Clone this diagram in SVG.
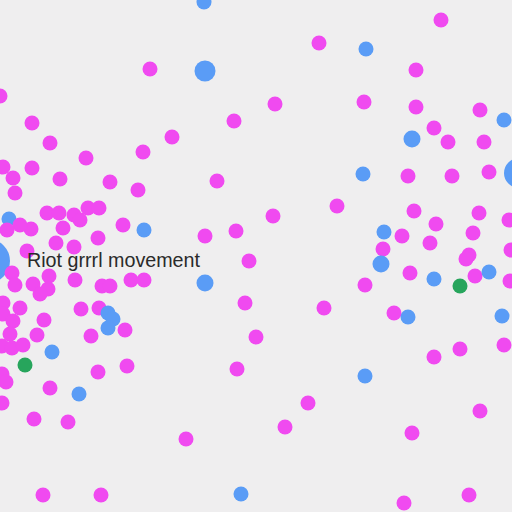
<svg xmlns="http://www.w3.org/2000/svg" width="512" height="512" viewBox="0 0 512 512">
<style>
.m{fill:#f04af0}
.b{fill:#5a9cf6}
.g{fill:#27a55c}
.lbl{font-family:"Liberation Sans",Arial,sans-serif;font-size:19.5px;fill:#2a2a2a}
</style>
<rect width="512" height="512" fill="#efeeef"/>
<g id="connectors"/>
<g id="nodes-back">
<g id="b1"><circle class="b" cx="-12" cy="261" r="22"/></g>
<g id="b2"><circle class="b" cx="519" cy="173" r="15"/></g>
<g id="b3"><circle class="b" cx="9" cy="219" r="7.5"/></g>
</g>
<g id="nodes-m">
<g id="m1"><circle class="m" cx="441" cy="20" r="7.5"/></g>
<g id="m2"><circle class="m" cx="319" cy="43" r="7.5"/></g>
<g id="m3"><circle class="m" cx="150" cy="69" r="7.5"/></g>
<g id="m4"><circle class="m" cx="416" cy="70" r="7.5"/></g>
<g id="m5"><circle class="m" cx="0" cy="96" r="7.5"/></g>
<g id="m6"><circle class="m" cx="275" cy="104" r="7.5"/></g>
<g id="m7"><circle class="m" cx="364" cy="102" r="7.5"/></g>
<g id="m8"><circle class="m" cx="416" cy="107" r="7.5"/></g>
<g id="m9"><circle class="m" cx="480" cy="110" r="7.5"/></g>
<g id="m10"><circle class="m" cx="32" cy="123" r="7.5"/></g>
<g id="m11"><circle class="m" cx="234" cy="121" r="7.5"/></g>
<g id="m12"><circle class="m" cx="172" cy="137" r="7.5"/></g>
<g id="m13"><circle class="m" cx="434" cy="128" r="7.5"/></g>
<g id="m14"><circle class="m" cx="50" cy="143" r="7.5"/></g>
<g id="m15"><circle class="m" cx="448" cy="142" r="7.5"/></g>
<g id="m16"><circle class="m" cx="484" cy="142" r="7.5"/></g>
<g id="m17"><circle class="m" cx="143" cy="152" r="7.5"/></g>
<g id="m18"><circle class="m" cx="86" cy="158" r="7.5"/></g>
<g id="m19"><circle class="m" cx="3" cy="167" r="7.5"/></g>
<g id="m20"><circle class="m" cx="32" cy="168" r="7.5"/></g>
<g id="m21"><circle class="m" cx="13" cy="178" r="7.5"/></g>
<g id="m22"><circle class="m" cx="60" cy="179" r="7.5"/></g>
<g id="m23"><circle class="m" cx="110" cy="182" r="7.5"/></g>
<g id="m24"><circle class="m" cx="217" cy="181" r="7.5"/></g>
<g id="m25"><circle class="m" cx="138" cy="190" r="7.5"/></g>
<g id="m26"><circle class="m" cx="15" cy="193" r="7.5"/></g>
<g id="m27"><circle class="m" cx="408" cy="176" r="7.5"/></g>
<g id="m28"><circle class="m" cx="452" cy="176" r="7.5"/></g>
<g id="m29"><circle class="m" cx="489" cy="172" r="7.5"/></g>
<g id="m30"><circle class="m" cx="337" cy="206" r="7.5"/></g>
<g id="m31"><circle class="m" cx="273" cy="216" r="7.5"/></g>
<g id="m32"><circle class="m" cx="414" cy="211" r="7.5"/></g>
<g id="m33"><circle class="m" cx="479" cy="213" r="7.5"/></g>
<g id="m34"><circle class="m" cx="509" cy="220" r="7.5"/></g>
<g id="m35"><circle class="m" cx="436" cy="224" r="7.5"/></g>
<g id="m36"><circle class="m" cx="473" cy="233" r="7.5"/></g>
<g id="m37"><circle class="m" cx="402" cy="236" r="7.5"/></g>
<g id="m38"><circle class="m" cx="430" cy="243" r="7.5"/></g>
<g id="m39"><circle class="m" cx="383" cy="249" r="7.5"/></g>
<g id="m40"><circle class="m" cx="469" cy="255" r="7.5"/></g>
<g id="m41"><circle class="m" cx="466" cy="259" r="7.5"/></g>
<g id="m42"><circle class="m" cx="511" cy="250" r="7.5"/></g>
<g id="m43"><circle class="m" cx="47" cy="213" r="7.5"/></g>
<g id="m44"><circle class="m" cx="59" cy="213" r="7.5"/></g>
<g id="m45"><circle class="m" cx="74" cy="215" r="7.5"/></g>
<g id="m46"><circle class="m" cx="80" cy="220" r="7.5"/></g>
<g id="m47"><circle class="m" cx="88" cy="208" r="7.5"/></g>
<g id="m48"><circle class="m" cx="99" cy="208" r="7.5"/></g>
<g id="m49"><circle class="m" cx="63" cy="228" r="7.5"/></g>
<g id="m50"><circle class="m" cx="31" cy="229" r="7.5"/></g>
<g id="m51"><circle class="m" cx="20" cy="225" r="7.5"/></g>
<g id="m52"><circle class="m" cx="7" cy="230" r="7.5"/></g>
<g id="m53"><circle class="m" cx="123" cy="225" r="7.5"/></g>
<g id="m54"><circle class="m" cx="205" cy="236" r="7.5"/></g>
<g id="m55"><circle class="m" cx="236" cy="231" r="7.5"/></g>
<g id="m56"><circle class="m" cx="56" cy="243" r="7.5"/></g>
<g id="m57"><circle class="m" cx="74" cy="247" r="7.5"/></g>
<g id="m58"><circle class="m" cx="98" cy="238" r="7.5"/></g>
<g id="m59"><circle class="m" cx="27" cy="251" r="7.5"/></g>
<g id="m60"><circle class="m" cx="249" cy="261" r="7.5"/></g>
<g id="m61"><circle class="m" cx="12" cy="273" r="7.5"/></g>
<g id="m62"><circle class="m" cx="15" cy="285" r="7.5"/></g>
<g id="m63"><circle class="m" cx="33" cy="284" r="7.5"/></g>
<g id="m64"><circle class="m" cx="49" cy="276" r="7.5"/></g>
<g id="m65"><circle class="m" cx="48" cy="289" r="7.5"/></g>
<g id="m66"><circle class="m" cx="40" cy="294" r="7.5"/></g>
<g id="m67"><circle class="m" cx="75" cy="280" r="7.5"/></g>
<g id="m68"><circle class="m" cx="102" cy="286" r="7.5"/></g>
<g id="m69"><circle class="m" cx="110" cy="286" r="7.5"/></g>
<g id="m70"><circle class="m" cx="131" cy="280" r="7.5"/></g>
<g id="m71"><circle class="m" cx="144" cy="280" r="7.5"/></g>
<g id="m72"><circle class="m" cx="245" cy="303" r="7.5"/></g>
<g id="m73"><circle class="m" cx="256" cy="337" r="7.5"/></g>
<g id="m74"><circle class="m" cx="3" cy="303" r="7.5"/></g>
<g id="m75"><circle class="m" cx="20" cy="308" r="7.5"/></g>
<g id="m76"><circle class="m" cx="3" cy="314" r="7.5"/></g>
<g id="m77"><circle class="m" cx="13" cy="321" r="7.5"/></g>
<g id="m78"><circle class="m" cx="44" cy="320" r="7.5"/></g>
<g id="m79"><circle class="m" cx="81" cy="309" r="7.5"/></g>
<g id="m80"><circle class="m" cx="99" cy="308" r="7.5"/></g>
<g id="m81"><circle class="m" cx="125" cy="330" r="7.5"/></g>
<g id="m82"><circle class="m" cx="91" cy="336" r="7.5"/></g>
<g id="m83"><circle class="m" cx="37" cy="335" r="7.5"/></g>
<g id="m84"><circle class="m" cx="10" cy="334" r="7.5"/></g>
<g id="m85"><circle class="m" cx="2" cy="346" r="7.5"/></g>
<g id="m86"><circle class="m" cx="12" cy="348" r="7.5"/></g>
<g id="m87"><circle class="m" cx="23" cy="345" r="7.5"/></g>
<g id="m88"><circle class="m" cx="98" cy="372" r="7.5"/></g>
<g id="m89"><circle class="m" cx="127" cy="366" r="7.5"/></g>
<g id="m90"><circle class="m" cx="237" cy="369" r="7.5"/></g>
<g id="m91"><circle class="m" cx="2" cy="374" r="7.5"/></g>
<g id="m92"><circle class="m" cx="6" cy="382" r="7.5"/></g>
<g id="m93"><circle class="m" cx="50" cy="388" r="7.5"/></g>
<g id="m94"><circle class="m" cx="2" cy="403" r="7.5"/></g>
<g id="m95"><circle class="m" cx="34" cy="419" r="7.5"/></g>
<g id="m96"><circle class="m" cx="68" cy="422" r="7.5"/></g>
<g id="m97"><circle class="m" cx="186" cy="439" r="7.5"/></g>
<g id="m98"><circle class="m" cx="43" cy="495" r="7.5"/></g>
<g id="m99"><circle class="m" cx="101" cy="495" r="7.5"/></g>
<g id="m100"><circle class="m" cx="410" cy="273" r="7.5"/></g>
<g id="m101"><circle class="m" cx="475" cy="276" r="7.5"/></g>
<g id="m102"><circle class="m" cx="510" cy="281" r="7.5"/></g>
<g id="m103"><circle class="m" cx="365" cy="285" r="7.5"/></g>
<g id="m104"><circle class="m" cx="324" cy="308" r="7.5"/></g>
<g id="m105"><circle class="m" cx="394" cy="313" r="7.5"/></g>
<g id="m106"><circle class="m" cx="434" cy="357" r="7.5"/></g>
<g id="m107"><circle class="m" cx="460" cy="349" r="7.5"/></g>
<g id="m108"><circle class="m" cx="504" cy="345" r="7.5"/></g>
<g id="m109"><circle class="m" cx="308" cy="403" r="7.5"/></g>
<g id="m110"><circle class="m" cx="285" cy="427" r="7.5"/></g>
<g id="m111"><circle class="m" cx="480" cy="411" r="7.5"/></g>
<g id="m112"><circle class="m" cx="412" cy="433" r="7.5"/></g>
<g id="m113"><circle class="m" cx="404" cy="503" r="7.5"/></g>
<g id="m114"><circle class="m" cx="469" cy="495" r="7.5"/></g>
</g>
<g id="nodes-b">
<g id="b4"><circle class="b" cx="204" cy="2" r="7.5"/></g>
<g id="b5"><circle class="b" cx="205" cy="71" r="10.5"/></g>
<g id="b6"><circle class="b" cx="366" cy="49" r="7.5"/></g>
<g id="b7"><circle class="b" cx="504" cy="120" r="7.5"/></g>
<g id="b8"><circle class="b" cx="412" cy="139" r="8.5"/></g>
<g id="b9"><circle class="b" cx="363" cy="174" r="7.5"/></g>
<g id="b10"><circle class="b" cx="144" cy="230" r="7.5"/></g>
<g id="b11"><circle class="b" cx="384" cy="232" r="7.5"/></g>
<g id="b12"><circle class="b" cx="381" cy="264" r="8.5"/></g>
<g id="b13"><circle class="b" cx="434" cy="279" r="7.5"/></g>
<g id="b14"><circle class="b" cx="489" cy="272" r="7.5"/></g>
<g id="b15"><circle class="b" cx="205" cy="283" r="8.5"/></g>
<g id="b16"><circle class="b" cx="108" cy="313" r="7.5"/></g>
<g id="b17"><circle class="b" cx="113" cy="319" r="7.5"/></g>
<g id="b18"><circle class="b" cx="108" cy="328" r="7.5"/></g>
<g id="b19"><circle class="b" cx="52" cy="352" r="7.5"/></g>
<g id="b20"><circle class="b" cx="79" cy="394" r="7.5"/></g>
<g id="b21"><circle class="b" cx="408" cy="317" r="7.5"/></g>
<g id="b22"><circle class="b" cx="502" cy="316" r="7.5"/></g>
<g id="b23"><circle class="b" cx="365" cy="376" r="7.5"/></g>
<g id="b24"><circle class="b" cx="241" cy="494" r="7.5"/></g>
</g>
<g id="nodes-g">
<g id="g1"><circle class="g" cx="25" cy="365" r="7.5"/></g>
<g id="g2"><circle class="g" cx="460" cy="286" r="7.5"/></g>
</g>
<g id="label"><text class="lbl" x="27" y="267" textLength="173" lengthAdjust="spacingAndGlyphs">Riot grrrl movement</text></g>
</svg>
